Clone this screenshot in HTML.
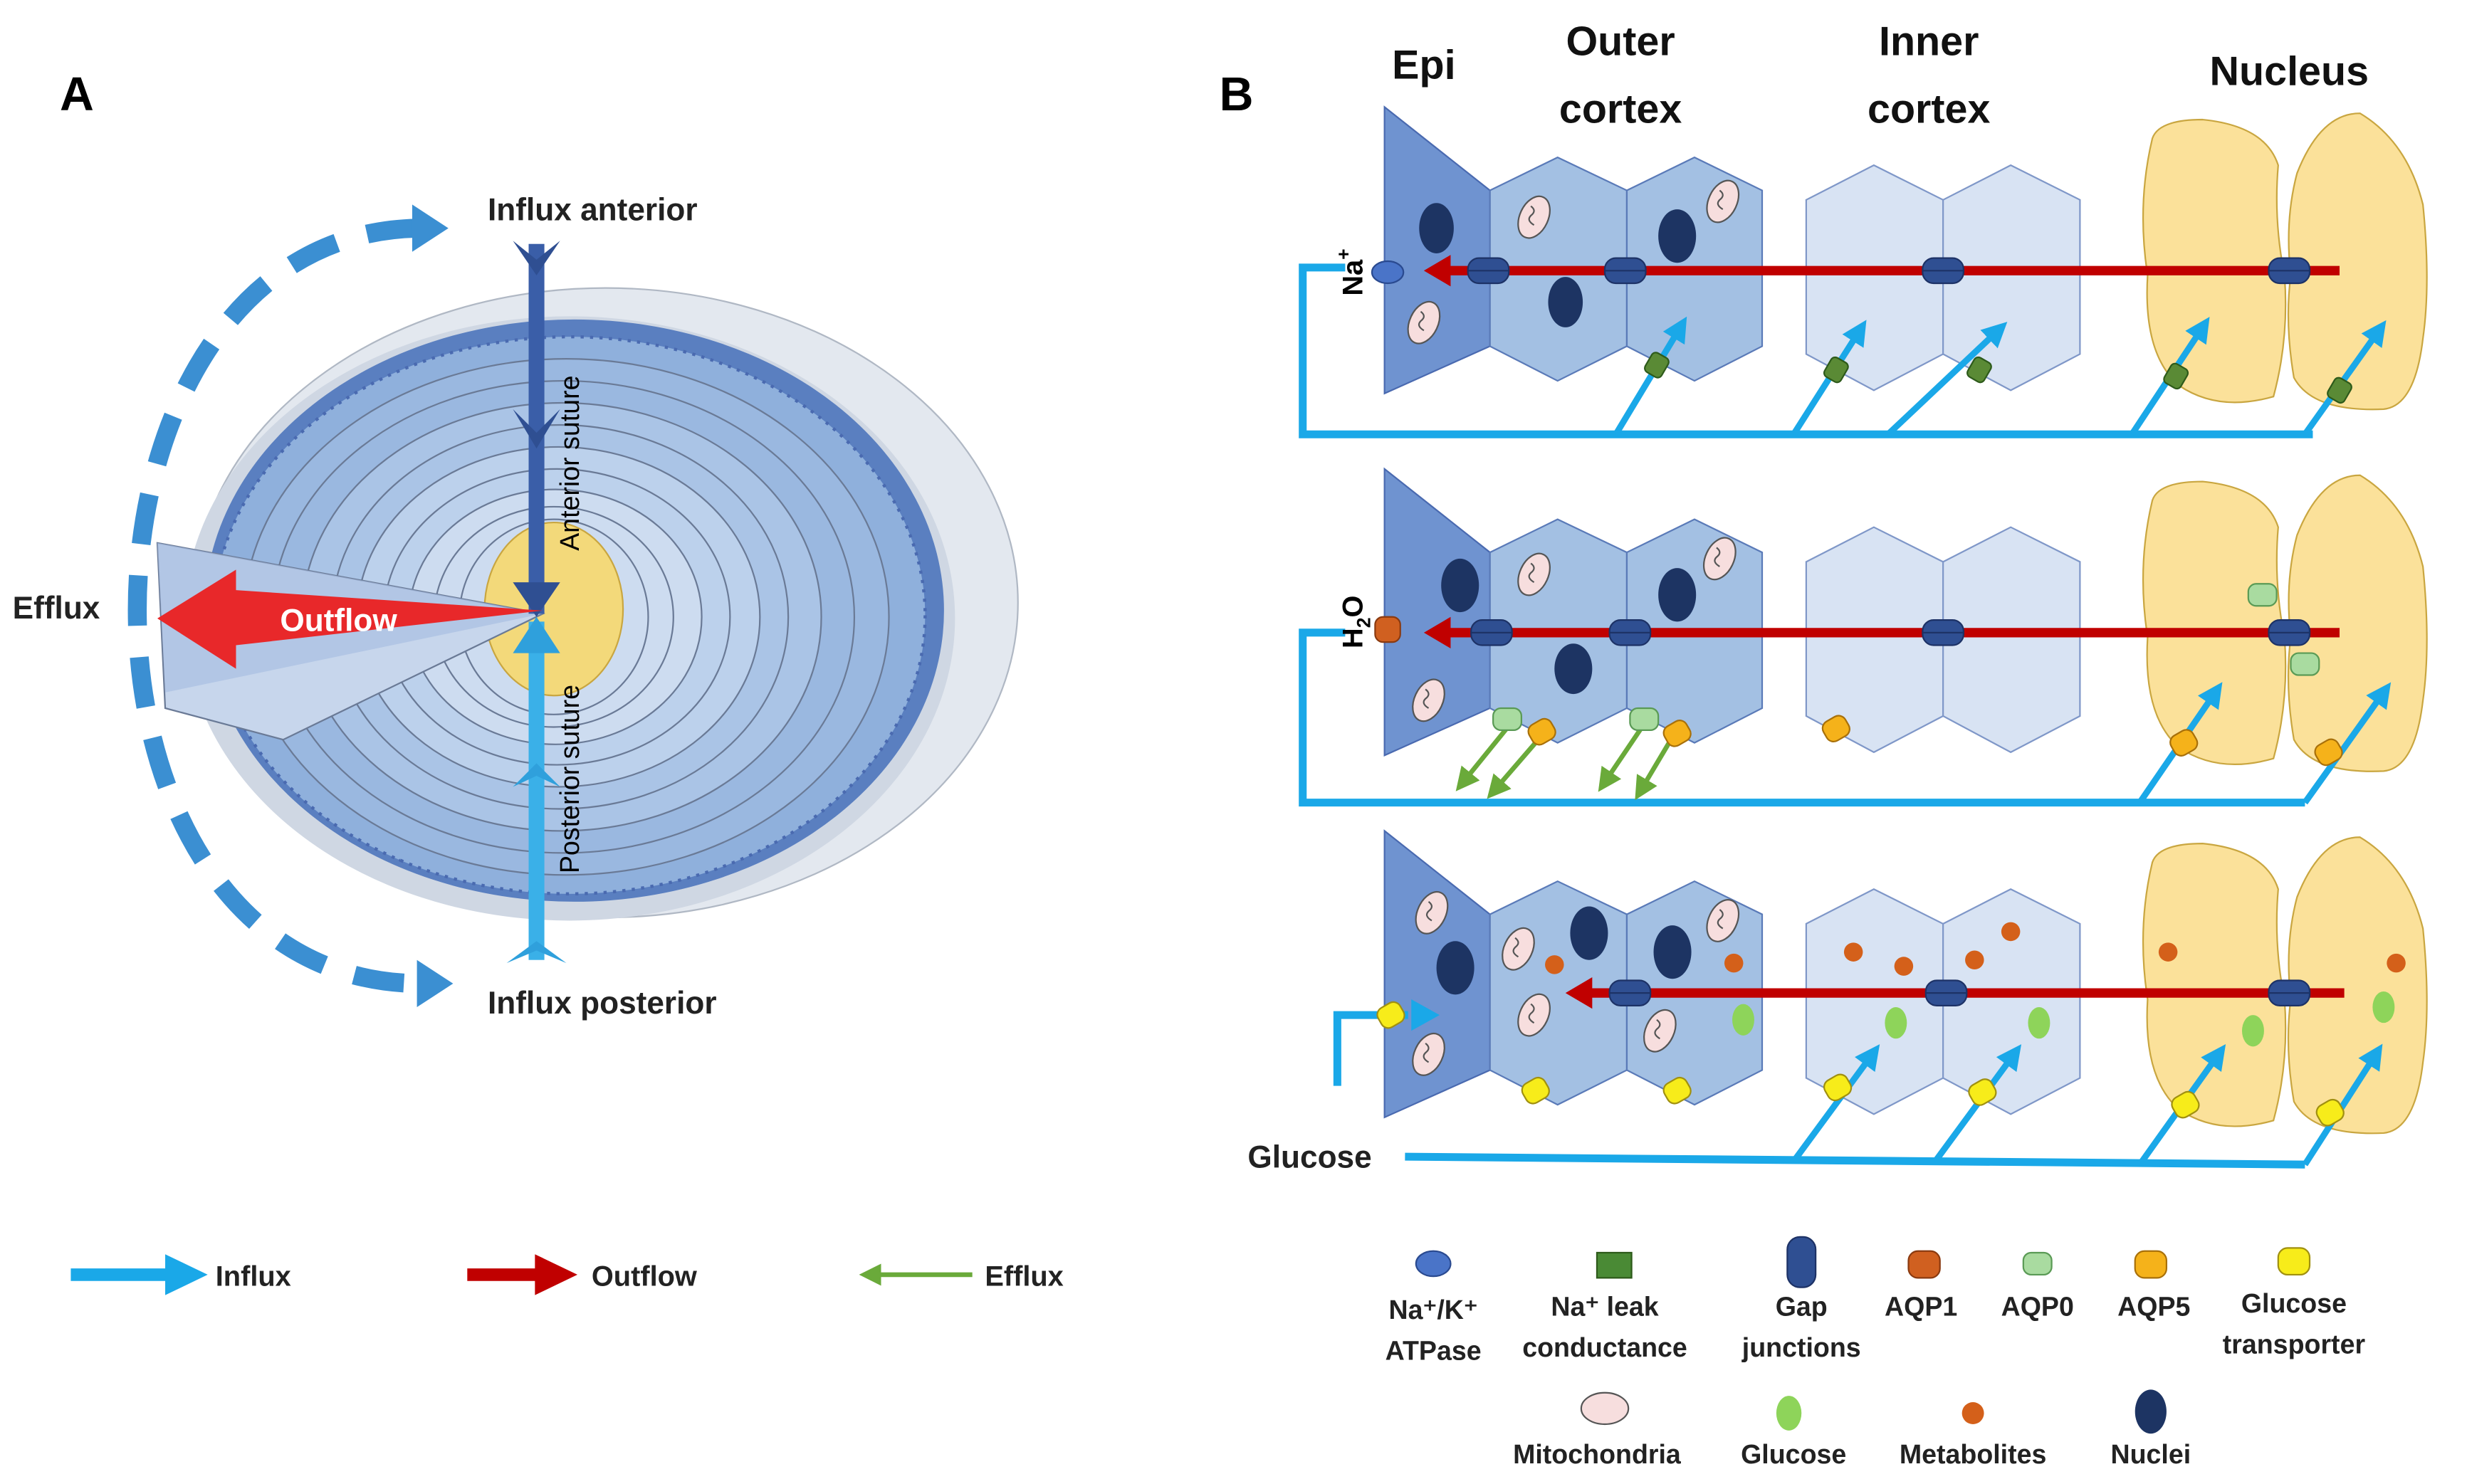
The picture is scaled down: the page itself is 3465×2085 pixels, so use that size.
<!DOCTYPE html>
<html><head><meta charset="utf-8"><style>
html,body{margin:0;padding:0;background:#fff}
svg{display:block}
text{font-family:"Liberation Sans",sans-serif}
</style></head><body>
<svg width="3465" height="2085" viewBox="0 0 1568 943" preserveAspectRatio="none" xmlns="http://www.w3.org/2000/svg">
<defs>
<marker id="ab" viewBox="0 0 10 10" refX="5" refY="5" markerWidth="4" markerHeight="4" orient="auto"><path d="M0,0 L10,5 L0,10 z" fill="#1aa8e8"/></marker>
<marker id="ag" viewBox="0 0 10 10" refX="5" refY="5" markerWidth="5" markerHeight="5" orient="auto"><path d="M0,0 L10,5 L0,10 z" fill="#6aaa3a"/></marker>
<g id="mito"><ellipse cx="0" cy="0" rx="9" ry="14" fill="#f7dede" stroke="#555" stroke-width="1" transform="rotate(25)"/><path d="M-2,-7 q4,3 0,6 q-3,3 2,6" fill="none" stroke="#555" stroke-width="1"/></g>
<g id="gj"><rect x="-13" y="-8" width="26" height="16" rx="7" fill="#2f4f92" stroke="#1d3266"/><line x1="-13" y1="0" x2="13" y2="0" stroke="#1d3266"/></g>
<g id="leak"><rect x="-6" y="-7" width="12" height="14" rx="3" fill="#5a8a35" stroke="#2d5a1a" transform="rotate(30)"/></g>
<g id="aqp5"><rect x="-8" y="-7" width="16" height="14" rx="5" fill="#f5b21a" stroke="#a8700a" transform="rotate(-30)"/></g>
<g id="aqp0"><rect x="-9" y="-7" width="18" height="14" rx="5" fill="#a9dba0" stroke="#5a9a55"/></g>
<g id="glut"><rect x="-8" y="-7" width="16" height="14" rx="5" fill="#f7ec1a" stroke="#a09010" transform="rotate(-30)"/></g>
<g id="cells">
<polygon points="880,68 947,121 947,220 880,250" fill="#6f93d0" stroke="#4a6ab0"/>
<polygon points="947,121 990,100 1034,121 1034,220 990,242 947,220" fill="#a3c0e3" stroke="#5a7ab8"/>
<polygon points="1034,121 1077,100 1120,121 1120,220 1077,242 1034,220" fill="#a3c0e3" stroke="#5a7ab8"/>
<polygon points="1148,127 1191,105 1235,127 1235,225 1191,248 1148,225" fill="#d8e3f3" stroke="#7f97c8"/>
<polygon points="1235,127 1278,105 1322,127 1322,225 1278,248 1235,225" fill="#d8e3f3" stroke="#7f97c8"/>
<path d="M1368,88 Q1372,76 1400,76 Q1440,80 1448,105 Q1445,140 1452,175 Q1455,215 1445,252 Q1410,262 1385,245 Q1362,225 1365,175 Q1358,130 1368,88 z" fill="#fbe19a" stroke="#c9a640"/>
<path d="M1460,110 Q1475,72 1500,72 Q1530,90 1540,130 Q1545,180 1540,215 Q1535,258 1515,260 Q1470,262 1458,240 Q1452,205 1456,175 Q1452,140 1460,110 z" fill="#fbe19a" stroke="#c9a640"/>
</g>
</defs>

<!-- Panel A -->
<text x="38" y="70" font-size="30" font-weight="bold">A</text>
<path d="M265,145 C30,150 25,625 268,625" fill="none" stroke="#3b8fd2" stroke-width="12" stroke-dasharray="32 20"/>
<polygon points="262,130 285,145 262,160" fill="#3b8fd2"/>
<polygon points="265,610 288,625 265,640" fill="#3b8fd2"/>
<ellipse cx="385" cy="383" rx="262" ry="200" fill="#e3e8ef" stroke="#b0b8c4"/>
<ellipse cx="362" cy="393" rx="245" ry="192" fill="#cfd7e3"/>
<ellipse cx="365" cy="388" rx="235" ry="185" fill="#5a7fc0"/>
<ellipse cx="362" cy="391" rx="226" ry="177" fill="#8fb0dc" stroke="#4a6ab0" stroke-width="2" stroke-dasharray="2 4"/>
<g fill="none" stroke="#6a7a96" stroke-width="1">
<ellipse cx="360" cy="392" rx="205" ry="164" fill="#9ab8e0"/>
<ellipse cx="358" cy="392" rx="185" ry="150"/>
<ellipse cx="357" cy="392" rx="165" ry="136" fill="#aac4e6"/>
<ellipse cx="356" cy="392" rx="145" ry="122"/>
<ellipse cx="355" cy="392" rx="128" ry="108" fill="#bcd1ec"/>
<ellipse cx="354" cy="392" rx="110" ry="94"/>
<ellipse cx="353" cy="392" rx="93" ry="81" fill="#cddcf0"/>
<ellipse cx="352" cy="392" rx="76" ry="70"/>
<ellipse cx="352" cy="392" rx="60" ry="62"/>
</g>
<ellipse cx="352" cy="387" rx="44" ry="55" fill="#f3d97a" stroke="#c9a640"/>
<polygon points="100,345 345,390 180,470 105,450" fill="#c7d6ec" stroke="#6a7a96"/>
<polygon points="100,345 345,390 105,440" fill="#a9bfe2" opacity="0.7"/>
<rect x="336" y="155" width="10" height="235" fill="#3a5ea8"/>
<polygon points="326,153 341,165 356,153 341,175" fill="#2f4f92"/>
<polygon points="326,260 341,275 356,260 341,285" fill="#2f4f92"/>
<polygon points="326,370 341,392 356,370" fill="#2f4f92"/>
<rect x="336" y="395" width="10" height="215" fill="#3ab0e8"/>
<polygon points="326,415 341,392 356,415" fill="#2fa0dc"/>
<polygon points="326,500 341,485 356,500 341,493" fill="#2fa0dc"/>
<polygon points="322,612 341,598 360,612 341,604" fill="#2fa0dc"/>
<polygon points="345,388 150,375 150,362 100,393 150,425 150,410" fill="#e8282a"/>
<text x="178" y="401" font-size="20" font-weight="bold" fill="#fff">Outflow</text>
<text x="368" y="350" font-size="17" transform="rotate(-90 368 350)">Anterior suture</text>
<text x="368" y="555" font-size="17" transform="rotate(-90 368 555)">Posterior suture</text>
<text x="310" y="140" font-size="20" font-weight="bold" fill="#222">Influx anterior</text>
<text x="310" y="644" font-size="20" font-weight="bold" fill="#222">Influx posterior</text>
<text x="8" y="393" font-size="20" font-weight="bold" fill="#222">Efflux</text>

<!-- Legend A -->
<line x1="45" y1="810" x2="110" y2="810" stroke="#1aa8e8" stroke-width="8"/>
<polygon points="105,797 132,810 105,823" fill="#1aa8e8"/>
<text x="137" y="817" font-size="18" font-weight="bold" fill="#222">Influx</text>
<line x1="297" y1="810" x2="345" y2="810" stroke="#c00000" stroke-width="8"/>
<polygon points="340,797 367,810 340,823" fill="#c00000"/>
<text x="376" y="817" font-size="18" font-weight="bold" fill="#222">Outflow</text>
<line x1="555" y1="810" x2="618" y2="810" stroke="#6aaa3a" stroke-width="3"/>
<polygon points="560,803 546,810 560,817" fill="#6aaa3a"/>
<text x="626" y="817" font-size="18" font-weight="bold" fill="#222">Efflux</text>

<!-- Panel B headers -->
<text x="775" y="70" font-size="30" font-weight="bold">B</text>
<g font-size="26" font-weight="bold" fill="#111" text-anchor="middle">
<text x="905" y="50">Epi</text>
<text x="1030" y="35">Outer</text><text x="1030" y="78">cortex</text>
<text x="1226" y="35">Inner</text><text x="1226" y="78">cortex</text>
<text x="1455" y="54">Nucleus</text>
</g>

<!-- Row 1 -->
<use href="#cells"/>
<ellipse cx="913" cy="145" rx="11" ry="16" fill="#1d3463"/>
<ellipse cx="995" cy="192" rx="11" ry="16" fill="#1d3463"/>
<ellipse cx="1066" cy="150" rx="12" ry="17" fill="#1d3463"/>
<use href="#mito" x="975" y="138"/><use href="#mito" x="1095" y="128"/><use href="#mito" x="905" y="205"/>
<polyline points="855,170 828,170 828,276 1470,276" fill="none" stroke="#1aa8e8" stroke-width="5"/>
<ellipse cx="882" cy="173" rx="10" ry="7" fill="#4a74c8" stroke="#2a4a90"/>
<text x="866" y="188" font-size="18" font-weight="bold" transform="rotate(-90 866 188)">Na<tspan dy="-8" font-size="12">+</tspan></text>
<line x1="920" y1="172" x2="1487" y2="172" stroke="#c00000" stroke-width="6"/>
<polygon points="922,162 905,172 922,182" fill="#c00000"/>
<use href="#gj" x="946" y="172"/><use href="#gj" x="1033" y="172"/><use href="#gj" x="1235" y="172"/><use href="#gj" x="1455" y="172"/>
<g stroke="#1aa8e8" stroke-width="4" fill="none" marker-end="url(#ab)">
<line x1="1027" y1="276" x2="1068" y2="208"/><line x1="1140" y1="276" x2="1182" y2="210"/><line x1="1200" y1="276" x2="1270" y2="210"/><line x1="1355" y1="276" x2="1400" y2="208"/><line x1="1465" y1="276" x2="1512" y2="210"/>
</g>
<use href="#leak" x="1053" y="232"/><use href="#leak" x="1167" y="235"/><use href="#leak" x="1258" y="235"/><use href="#leak" x="1383" y="239"/><use href="#leak" x="1487" y="248"/>

<!-- Row 2 -->
<g transform="translate(0,230)"><use href="#cells"/></g>
<ellipse cx="928" cy="372" rx="12" ry="17" fill="#1d3463"/>
<ellipse cx="1000" cy="425" rx="12" ry="16" fill="#1d3463"/>
<ellipse cx="1066" cy="378" rx="12" ry="17" fill="#1d3463"/>
<use href="#mito" x="975" y="365"/><use href="#mito" x="1093" y="355"/><use href="#mito" x="908" y="445"/>
<polyline points="855,402 828,402 828,510 1465,510" fill="none" stroke="#1aa8e8" stroke-width="5"/>
<rect x="874" y="392" width="16" height="16" rx="5" fill="#d06020" stroke="#8a3a10"/>
<text x="866" y="412" font-size="18" font-weight="bold" transform="rotate(-90 866 412)">H<tspan dy="5" font-size="12">2</tspan><tspan dy="-5">O</tspan></text>
<line x1="920" y1="402" x2="1487" y2="402" stroke="#c00000" stroke-width="6"/>
<polygon points="922,392 905,402 922,412" fill="#c00000"/>
<use href="#gj" x="948" y="402"/><use href="#gj" x="1036" y="402"/><use href="#gj" x="1235" y="402"/><use href="#gj" x="1455" y="402"/>
<use href="#aqp0" x="1438" y="378"/><use href="#aqp0" x="1465" y="422"/>
<g stroke="#6aaa3a" stroke-width="3" fill="none" marker-end="url(#ag)">
<line x1="960" y1="460" x2="930" y2="497"/><line x1="982" y1="465" x2="950" y2="502"/><line x1="1045" y1="460" x2="1020" y2="497"/><line x1="1065" y1="465" x2="1043" y2="502"/>
</g>
<use href="#aqp0" x="958" y="457"/><use href="#aqp5" x="980" y="465"/><use href="#aqp0" x="1045" y="457"/><use href="#aqp5" x="1066" y="466"/><use href="#aqp5" x="1167" y="463"/>
<g stroke="#1aa8e8" stroke-width="4" fill="none" marker-end="url(#ab)">
<line x1="1360" y1="510" x2="1408" y2="440"/><line x1="1465" y1="510" x2="1515" y2="440"/>
</g>
<use href="#aqp5" x="1388" y="472"/><use href="#aqp5" x="1480" y="478"/>

<!-- Row 3 -->
<g transform="translate(0,460)"><use href="#cells"/></g>
<ellipse cx="925" cy="615" rx="12" ry="17" fill="#1d3463"/>
<ellipse cx="1010" cy="593" rx="12" ry="17" fill="#1d3463"/>
<ellipse cx="1063" cy="605" rx="12" ry="17" fill="#1d3463"/>
<use href="#mito" x="910" y="580"/><use href="#mito" x="965" y="603"/><use href="#mito" x="975" y="645"/><use href="#mito" x="1095" y="585"/><use href="#mito" x="1055" y="655"/><use href="#mito" x="908" y="670"/>
<g fill="#d4601a"><circle cx="988" cy="613" r="6"/><circle cx="1102" cy="612" r="6"/><circle cx="1178" cy="605" r="6"/><circle cx="1210" cy="614" r="6"/><circle cx="1255" cy="610" r="6"/><circle cx="1278" cy="592" r="6"/><circle cx="1378" cy="605" r="6"/><circle cx="1523" cy="612" r="6"/></g>
<g fill="#8ed45a"><ellipse cx="1108" cy="648" rx="7" ry="10"/><ellipse cx="1205" cy="650" rx="7" ry="10"/><ellipse cx="1296" cy="650" rx="7" ry="10"/><ellipse cx="1432" cy="655" rx="7" ry="10"/><ellipse cx="1515" cy="640" rx="7" ry="10"/></g>
<polyline points="895,645 850,645 850,690" fill="none" stroke="#1aa8e8" stroke-width="5"/>
<polygon points="897,635 915,645 897,655" fill="#1aa8e8"/>
<use href="#glut" x="884" y="645"/>
<polyline points="893,735 1465,740" fill="none" stroke="#1aa8e8" stroke-width="5"/>
<text x="793" y="742" font-size="20" font-weight="bold" fill="#222">Glucose</text>
<line x1="1010" y1="631" x2="1490" y2="631" stroke="#c00000" stroke-width="6"/>
<polygon points="1012,621 995,631 1012,641" fill="#c00000"/>
<use href="#gj" x="1036" y="631"/><use href="#gj" x="1237" y="631"/><use href="#gj" x="1455" y="631"/>
<g stroke="#1aa8e8" stroke-width="4" fill="none" marker-end="url(#ab)">
<line x1="1140" y1="738" x2="1190" y2="670"/><line x1="1230" y1="738" x2="1280" y2="670"/><line x1="1360" y1="740" x2="1410" y2="670"/><line x1="1465" y1="740" x2="1510" y2="670"/>
</g>
<use href="#glut" x="976" y="693"/><use href="#glut" x="1066" y="693"/><use href="#glut" x="1168" y="691"/><use href="#glut" x="1260" y="694"/><use href="#glut" x="1389" y="702"/><use href="#glut" x="1481" y="707"/>

<!-- Legend B -->
<ellipse cx="911" cy="803" rx="11" ry="8" fill="#4a74c8" stroke="#2a4a90"/>
<rect x="1015" y="796" width="22" height="16" fill="#4a8a35" stroke="#2d5a1a"/>
<rect x="1136" y="786" width="18" height="32" rx="8" fill="#2f4f92" stroke="#1d3266"/>
<rect x="1213" y="795" width="20" height="17" rx="6" fill="#d06020" stroke="#8a3a10"/>
<use href="#aqp0" x="1295" y="803"/>
<rect x="1357" y="795" width="20" height="17" rx="6" fill="#f5b21a" stroke="#a8700a"/>
<rect x="1448" y="793" width="20" height="17" rx="6" fill="#f7ec1a" stroke="#a09010"/>
<g font-size="17" font-weight="bold" fill="#222" text-anchor="middle">
<text x="911" y="838">Na⁺/K⁺</text><text x="911" y="864">ATPase</text>
<text x="1020" y="836">Na⁺ leak</text><text x="1020" y="862">conductance</text>
<text x="1145" y="836">Gap</text><text x="1145" y="862">junctions</text>
<text x="1221" y="836">AQP1</text><text x="1295" y="836">AQP0</text><text x="1369" y="836">AQP5</text>
<text x="1458" y="834">Glucose</text><text x="1458" y="860">transporter</text>
<text x="1015" y="930">Mitochondria</text><text x="1140" y="930">Glucose</text><text x="1254" y="930">Metabolites</text><text x="1367" y="930">Nuclei</text>
</g>
<ellipse cx="1020" cy="895" rx="15" ry="10" fill="#f7dede" stroke="#555"/>
<ellipse cx="1137" cy="898" rx="8" ry="11" fill="#8ed45a"/>
<circle cx="1254" cy="898" r="7" fill="#d4601a"/>
<ellipse cx="1367" cy="897" rx="10" ry="14" fill="#1d3463"/>
</svg>
</body></html>
